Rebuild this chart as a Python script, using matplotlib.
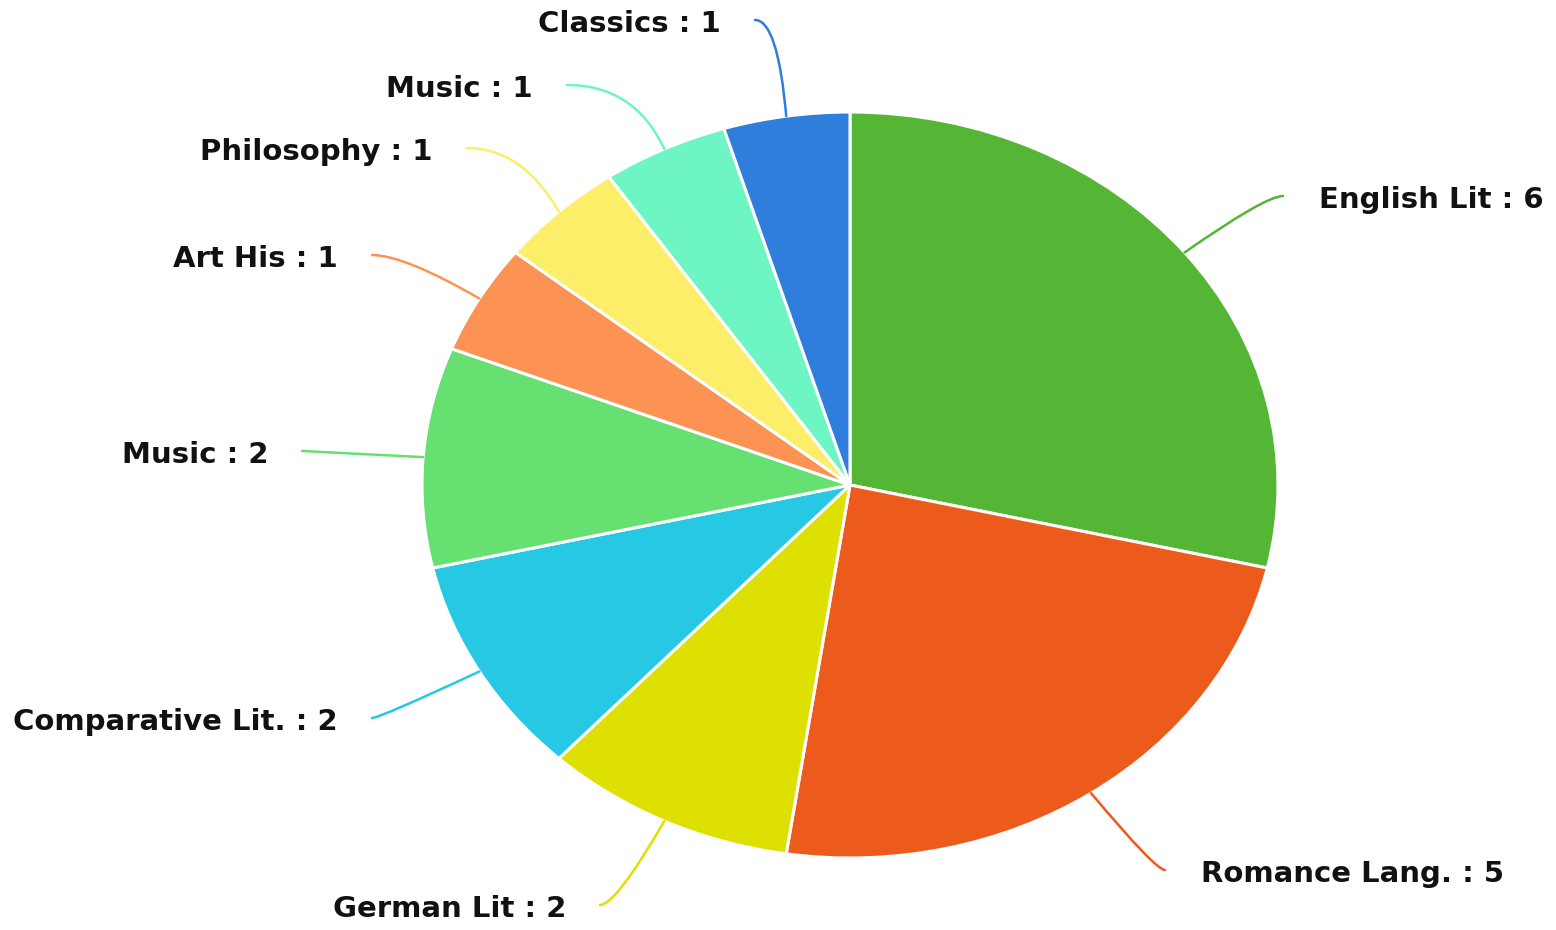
import numpy as np
import matplotlib
matplotlib.use("Agg")
import matplotlib.pyplot as plt

# data (clockwise from 12 o'clock)
labels = ["English Lit", "Romance Lang.", "German Lit", "Comparative Lit.", "Music",
          "Art His", "Philosophy", "Music", "Classics"]
values = [6, 5, 2, 2, 2, 1, 1, 1, 1]
colors = ["#55b535", "#ec5a1c", "#dde000", "#26c8e4", "#66e070",
          "#fc9355", "#fcee68", "#6ef5c4", "#2f7edb"]

# leader line start (figure px, y from top) and connection style
leader_start = [(1283, 196), (1165, 870), (600, 905), (372, 718), (302, 451),
                (372, 255), (467, 148), (567, 85), (755, 20)]
leader_style = ["angle3,angleA=0,angleB=35", "angle3,angleA=0,angleB=-50",
                "angle3,angleA=0,angleB=60", "angle3,angleA=0,angleB=25",
                "arc3,rad=0", "angle3,angleA=0,angleB=150",
                "angle3,angleA=0,angleB=120", "angle3,angleA=0,angleB=115",
                "angle3,angleA=0,angleB=95"]

W, H = 1556, 930
fig = plt.figure(figsize=(W / 100, H / 100), dpi=100)

# pie is drawn in an axes box that is wider than tall -> elliptical pie
cx, cy, rx, ry = 850, 485, 428, 373
ax = fig.add_axes([(cx - rx) / W, (H - cy - ry) / H, 2 * rx / W, 2 * ry / H])
wedges, _ = ax.pie(values, colors=colors, startangle=90, counterclock=False,
                   radius=1.0, wedgeprops=dict(edgecolor="white", linewidth=2.2))
ax.set_aspect("auto")
ax.set_xlim(-1, 1)
ax.set_ylim(-1, 1)
ax.axis("off")

total = sum(values)
cum = np.cumsum([0] + values)
for i, (lab, val) in enumerate(zip(labels, values)):
    mid = np.deg2rad(90 - (cum[i] + val / 2) / total * 360)
    px, py = leader_start[i]
    ax.annotate("", xy=(np.cos(mid), np.sin(mid)), xycoords="data",
                xytext=(px, H - py), textcoords="figure pixels",
                arrowprops=dict(arrowstyle="-", color=colors[i], lw=1.8,
                                connectionstyle=leader_style[i],
                                shrinkA=0, shrinkB=0))
    right_side = px > cx
    tx = px + 36 if right_side else px - 34
    fig.text(tx / W, (H - py - 4) / H, f"{lab} : {val}",
             ha="left" if right_side else "right", va="center",
             fontsize=21, fontweight="bold", color="#111111",
             family="DejaVu Sans")

fig.savefig("out.png", dpi=100, facecolor="white")
